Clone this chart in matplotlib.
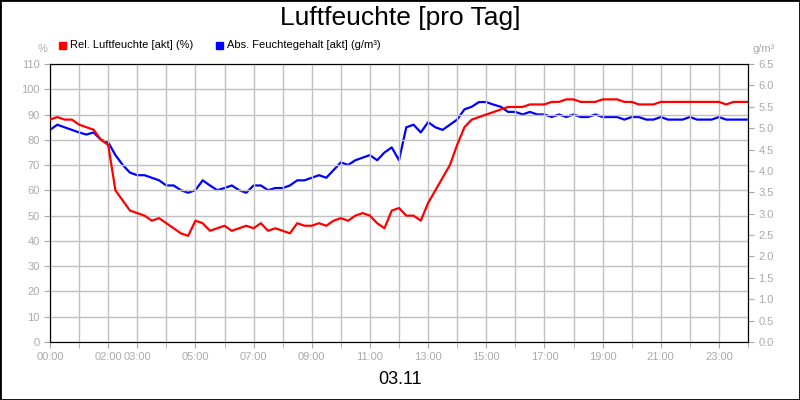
import matplotlib
matplotlib.use("Agg")
import matplotlib.pyplot as plt
import numpy as np
plt.rcParams['font.family'] = ['Liberation Sans', 'DejaVu Sans']

hours = np.arange(97) / 4.0
rel = [88,89,88,88, 86,85,84,80, 78,60,56,52, 51,50,48,49, 47,45,43,42,
       48,47,44,45, 46,44,45,46, 45,47,44,45, 44,43,47,46, 46,47,46,48,
       49,48,50,51, 50,47,45,52, 53,50,50,48, 55,60,65,70, 78,85,88,89,
       90,91,92,93, 93,93,94,94, 94,95,95,96, 96,95,95,95, 96,96,96,95,
       95,94,94,94, 95,95,95,95, 95,95,95,95, 95,94,95,95, 95]
ab = [4.96,5.08,5.02,4.96, 4.90,4.85,4.90,4.73, 4.67,4.37,4.14,3.96, 3.90,3.90,3.84,3.78,
      3.66,3.66,3.55,3.49, 3.55,3.78,3.66,3.55, 3.60,3.66,3.55,3.49, 3.66,3.66,3.55,3.60,
      3.60,3.66,3.78,3.78, 3.84,3.90,3.84,4.02, 4.20,4.14,4.25,4.31, 4.37,4.25,4.43,4.55,
      4.25,5.02,5.08,4.90, 5.14,5.02,4.96,5.08, 5.20,5.44,5.50,5.61, 5.61,5.55,5.50,5.38,
      5.38,5.32,5.38,5.32, 5.32,5.26,5.32,5.26, 5.32,5.26,5.26,5.32, 5.26,5.26,5.26,5.20,
      5.26,5.26,5.20,5.20, 5.26,5.20,5.20,5.20, 5.26,5.20,5.20,5.20, 5.26,5.20,5.20,5.20, 5.20]
xticks = [0,2,3,5,7,9,11,13,15,17,19,21,23]
xlabels = [f"{h:02d}:00" for h in xticks]

fig = plt.figure(figsize=(8,4), dpi=100)
fig.patches.append(plt.Rectangle((0,0),1,1,transform=fig.transFigure,fill=False,edgecolor='black',lw=2))
ax = fig.add_axes([0.0625,0.145,0.8725,0.695])
ax2 = ax.twinx()
gray = '#aaaaaa'
ax.plot(hours, rel, color='#ff0000', lw=1.6, zorder=3)
ax2.plot(hours, ab, color='#0000ff', lw=1.6)
ax.set_zorder(ax2.get_zorder()+1); ax.patch.set_visible(False)
ax.set_xlim(0,24); ax.set_ylim(0,110); ax2.set_ylim(0,6.5)
ax.set_yticks(range(0,111,10)); ax2.set_yticks(np.arange(0,6.51,0.5))
ax2.set_yticklabels([f"{v:.1f}" for v in np.arange(0,6.51,0.5)])
ax.set_xticks(range(25), minor=True)
ax.set_xticks(xticks); ax.set_xticklabels(xlabels)
ax.grid(True, which='both', color='#c0c0c0', lw=1)
for a in (ax, ax2):
    a.tick_params(colors=gray, labelsize=8, length=4)
    a.tick_params(which='minor', colors=gray, length=4)
    for s in a.spines.values(): s.set_color('black')
fig.text(0.5,0.955,"Luftfeuchte [pro Tag]",ha='center',va='center',fontsize=19)
fig.text(0.5,0.05,"03.11",ha='center',va='center',fontsize=13)
fig.text(0.053,0.878,"%",ha='center',va='center',fontsize=8,color=gray)
fig.text(0.955,0.878,"g/m³",ha='center',va='center',fontsize=8,color=gray)
fig.patches.append(plt.Rectangle((59/800,1-49/400),7/800,7/400,transform=fig.transFigure,color='#ff0000'))
fig.text(70/800,1-45/400,"Rel. Luftfeuchte [akt] (%)",va='center',fontsize=8)
fig.patches.append(plt.Rectangle((216/800,1-49/400),7/800,7/400,transform=fig.transFigure,color='#0000ff'))
fig.text(227/800,1-45/400,"Abs. Feuchtegehalt [akt] (g/m³)",va='center',fontsize=8)
fig.savefig("out.png")
